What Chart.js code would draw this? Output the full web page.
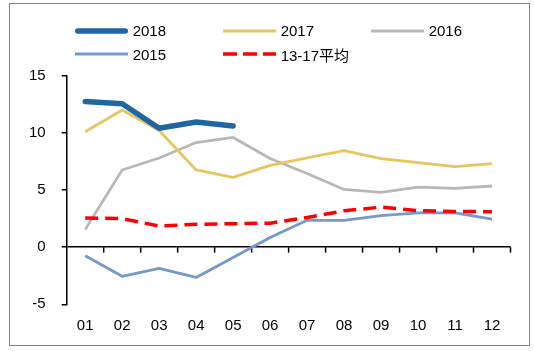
<!DOCTYPE html>
<html><head><meta charset="utf-8">
<script src="https://cdn.jsdelivr.net/npm/chart.js@4.4.1/dist/chart.umd.min.js"></script>
<style>
html,body{margin:0;padding:0;background:#fff;}
#wrap{position:relative;width:534px;height:351px;overflow:hidden;}
#frame{position:absolute;left:9px;top:3px;width:521px;height:343px;border:1.5px solid #808080;box-sizing:border-box;}
#c{position:absolute;left:0;top:0;}
.leg{position:absolute;display:flex;align-items:center;height:20px;font-family:"Liberation Sans",Arial,"Noto Sans CJK SC",sans-serif;font-size:15px;color:#000;white-space:nowrap;}
.leg svg{display:block;margin-right:4.7px;}
</style></head>
<body><div id="wrap"><div id="frame"></div><canvas id="c" width="534" height="351"></canvas><div id="legend"></div></div>
<script>
const months = ['01','02','03','04','05','06','07','08','09','10','11','12'];
const seriesNames = ['2018','2017','2016','2015','13-17平均'];
const v2018 = [12.75, 12.55, 10.4, 10.95, 10.6];
const v2017 = [10.1, 12.0, 10.2, 6.75, 6.1, 7.15, 7.8, 8.45, 7.75, 7.4, 7.05, 7.3];
const v2016 = [1.55, 6.75, 7.8, 9.15, 9.6, 7.75, 6.45, 5.05, 4.8, 5.25, 5.15, 5.35];
const v2015 = [-0.75, -2.55, -1.85, -2.65, -0.9, 0.85, 2.35, 2.35, 2.75, 3.0, 3.0, 2.45];
const vAvg  = [2.55, 2.5, 1.85, 2.0, 2.05, 2.1, 2.6, 3.18, 3.5, 3.2, 3.12, 3.1];
const yMin = -5, yMax = 15, yStep = 5;

const FONT = '"Liberation Sans", Arial, "Noto Sans CJK SC", sans-serif';
const styles = [
  {color:'#1F67A3', width:5.5, dash:[], cap:'round', order:0},
  {color:'#E5C65F', width:2.8, dash:[], cap:'butt', order:3},
  {color:'#B8B8B8', width:2.8, dash:[], cap:'butt', order:4},
  {color:'#7499CB', width:2.8, dash:[], cap:'butt', order:2},
  {color:'#FF0000', width:3.5, dash:[13,7], cap:'butt', order:1}
];
const values = [v2018, v2017, v2016, v2015, vAvg];

const datasets = values.map((v,i)=>({
  label: seriesNames[i], data: v,
  borderColor: styles[i].color, backgroundColor: styles[i].color,
  borderWidth: styles[i].width, borderDash: styles[i].dash,
  borderCapStyle: styles[i].cap, borderJoinStyle:'round',
  pointRadius:0, tension:0, fill:false, order: styles[i].order
}));

const zeroTicks = {
  id:'zeroTicks',
  beforeDatasetsDraw(chart){
    const xs = chart.scales.x, ys = chart.scales.y, ctx = chart.ctx;
    const y0 = ys.getPixelForValue(0);
    const n = months.length;
    ctx.save(); ctx.strokeStyle='#000'; ctx.lineWidth=1.5;
    for(let i=1;i<=n;i++){
      const px = i<n ? (xs.getPixelForValue(i-1)+xs.getPixelForValue(i))/2 : xs.right;
      ctx.beginPath(); ctx.moveTo(px, y0); ctx.lineTo(px, y0+5.5); ctx.stroke();
    }
    ctx.restore();
  }
};

new Chart(document.getElementById('c'), {
  type:'line',
  data:{labels: months, datasets},
  options:{
    responsive:false, animation:false, devicePixelRatio:1,
    layout:{padding:{left:0, right:23.5, top:75.7, bottom:0}},
    plugins:{legend:{display:false}, tooltip:{enabled:false}},
    scales:{
      x:{
        type:'category', offset:true,
        grid:{display:false, drawTicks:false, offset:true},
        border:{display:false},
        ticks:{color:'#000', font:{family:FONT, size:15}, padding:13, maxRotation:0, autoSkip:false},
        afterFit(s){ s.height = 46.7; }
      },
      y:{
        min:yMin, max:yMax,
        ticks:{stepSize:yStep, color:'#000', font:{family:FONT, size:15}, padding:16},
        grid:{drawOnChartArea:true, color: c => (c.tick && c.tick.value===0) ? '#000' : 'rgba(0,0,0,0)', tickColor:'#000', tickLength:5, lineWidth:1.5},
        border:{display:true, color:'#000', width:1.5},
        afterFit(s){ s.width = 66.7; }
      }
    }
  },
  plugins:[zeroTicks]
});

// HTML legend
const leg = document.getElementById('legend');
seriesNames.forEach((name,i)=>{
  const col = i%3, row = Math.floor(i/3);
  const d = document.createElement('div');
  d.className='leg';
  d.style.left = (75 + col*148) + 'px';
  d.style.top = (30.7 + row*23.3 - 10) + 'px';
  const st = styles[i];
  const dash = st.dash.length ? 'stroke-dasharray="14 6"' : '';
  const x1 = st.cap==='round' ? st.width/2 : 0, x2 = st.cap==='round' ? 53-st.width/2 : 53;
  d.innerHTML = `<svg width="53" height="10"><line x1="${x1}" y1="5" x2="${x2}" y2="5" stroke="${st.color}" stroke-width="${st.width}" stroke-linecap="${st.cap}" ${dash}/></svg><span>${name}</span>`;
  leg.appendChild(d);
});
</script>
</body></html>
